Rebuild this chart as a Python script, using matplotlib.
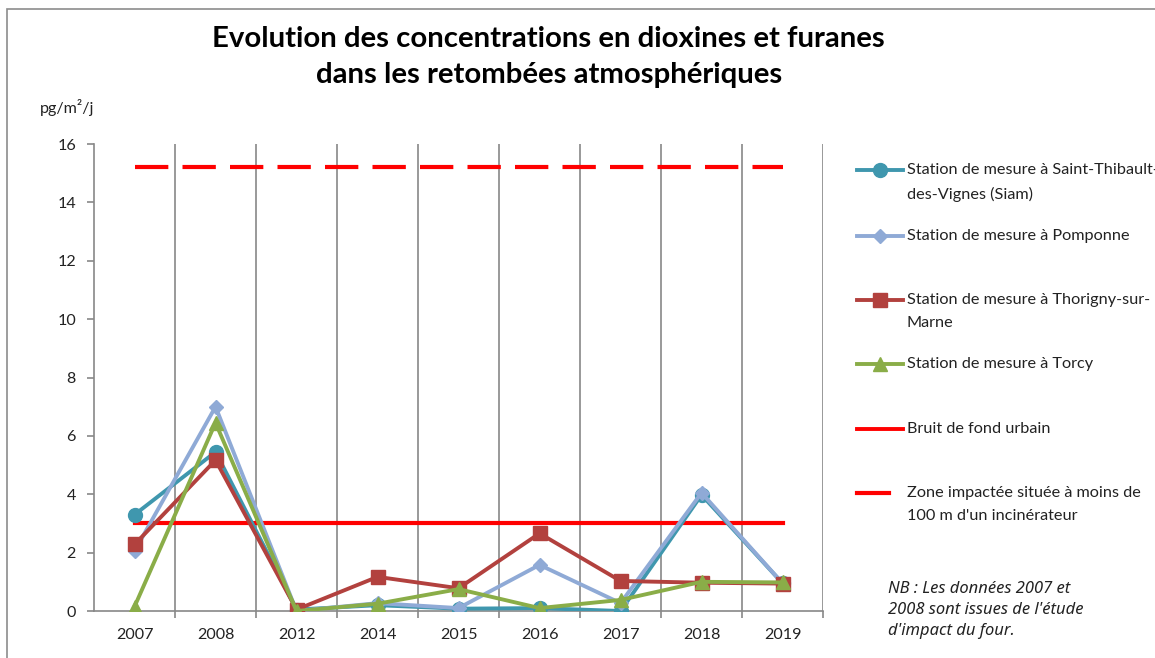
import matplotlib.pyplot as plt
from matplotlib.lines import Line2D
from matplotlib.patches import Rectangle

# Data
years = ['2007', '2008', '2012', '2014', '2015', '2016', '2017', '2018', '2019']
siam = [3.3, 5.45, 0.05, 0.2, 0.08, 0.1, 0.0, 3.98, 0.95]
pomponne = [2.05, 7.0, 0.0, 0.27, 0.1, 1.58, 0.27, 4.05, 0.95]
thorigny = [2.28, 5.17, 0.05, 1.17, 0.78, 2.66, 1.03, 0.97, 0.94]
torcy = [0.15, 6.45, 0.0, 0.25, 0.75, 0.1, 0.38, 1.0, 0.98]
bruit_fond = 3.0
zone_impactee = 15.2

labels = ['Station de mesure à Saint-Thibault-\ndes-Vignes (Siam)',
          'Station de mesure à Pomponne',
          'Station de mesure à Thorigny-sur-\nMarne',
          'Station de mesure à Torcy',
          'Bruit de fond urbain',
          "Zone impactée située à moins de\n100 m d'un incinérateur"]
colors = ['#3F97AE', '#8FAAD6', '#B2413E', '#8AAD48', '#FF0000', '#FF0000']
markers = ['o', 'D', 's', '^', None, None]
msizes = [10, 7, 10, 10, 0, 0]

plt.rcParams['font.family'] = ['Lato', 'DejaVu Sans']

fig = plt.figure(figsize=(11.55, 6.58), dpi=100)
fig.add_artist(Rectangle((0.006, -0.01), 1.2, 0.997, transform=fig.transFigure,
                         fill=False, edgecolor='#8c8c8c', linewidth=1.2))

ax = fig.add_axes([0.0814, 0.0714, 0.6312, 0.7097])
x = list(range(len(years)))

series = [siam, pomponne, thorigny, torcy]
for vals, c, m, ms in zip(series, colors, markers, msizes):
    ax.plot(x, vals, color=c, marker=m, markersize=ms, linewidth=2.8,
            markeredgecolor=c, zorder=3)

ax.plot([x[0], x[-1]], [bruit_fond, bruit_fond], color=colors[4], linewidth=3, zorder=2)
ax.plot([x[0], x[-1]], [zone_impactee, zone_impactee], color=colors[5], linewidth=3,
        dashes=(8, 3.4), zorder=2)

ax.set_xlim(-0.5, len(years) - 0.5)
ax.set_ylim(0, 16)
ax.set_yticks(range(0, 17, 2))
ax.set_xticks(x)
ax.set_xticklabels(years)
ax.set_xticks([i + 0.5 for i in range(len(years))], minor=True)
ax.tick_params(axis='x', which='major', length=0, pad=12, labelsize=11.6, colors='#222222')
ax.tick_params(axis='x', which='minor', length=5, color='#888888', width=1.2)
ax.tick_params(axis='y', length=5, color='#888888', width=1.2, pad=8, labelsize=11.6,
               labelcolor='#222222')
ax.grid(True, axis='x', which='minor', color='#888888', linewidth=1.2)
ax.grid(False, axis='x', which='major')
ax.set_axisbelow(True)
for s in ['top', 'right']:
    ax.spines[s].set_visible(False)
for s in ['left', 'bottom']:
    ax.spines[s].set_color('#888888')
    ax.spines[s].set_linewidth(1.2)

fig.text(0.0346, 0.836, 'pg/m²/j', fontsize=11.6, color='#222222', va='center')

fig.text(0.475, 0.94, 'Evolution des concentrations en dioxines et furanes',
         fontsize=21.2, fontweight='bold', ha='center', va='center')
fig.text(0.475, 0.886, 'dans les retombées atmosphériques',
         fontsize=21.2, fontweight='bold', ha='center', va='center')

# Legend, Excel style: evenly spaced entries, handle aligned with the first text line
ys = [170, 236, 300, 364, 429, 493]
for i, (lab, c, m, ms) in enumerate(zip(labels, colors, markers, msizes)):
    yf = 1 - ys[i] / 658
    if i == 5:
        fig.add_artist(Line2D([857 / 1155, 889 / 1155], [yf, yf], color=c, linewidth=3,
                              transform=fig.transFigure))
    else:
        fig.add_artist(Line2D([857 / 1155, 903 / 1155], [yf, yf], color=c, linewidth=2.8,
                              transform=fig.transFigure))
        if m is not None:
            fig.add_artist(Line2D([880 / 1155], [yf], color=c, marker=m, markersize=ms,
                                  transform=fig.transFigure))
    fig.text(907 / 1155, yf + 7 / 658, lab, fontsize=11.7, color='#222222', va='top',
             linespacing=1.8)

fig.text(888 / 1155, 1 - 610 / 658,
         "NB : Les données 2007 et\n2008 sont issues de l'étude\nd'impact du four.",
         fontsize=11.9, family=['Noto Sans', 'DejaVu Sans'], style='italic',
         color='#222222', va='center', linespacing=1.45)

fig.savefig('out.png', dpi=100)
